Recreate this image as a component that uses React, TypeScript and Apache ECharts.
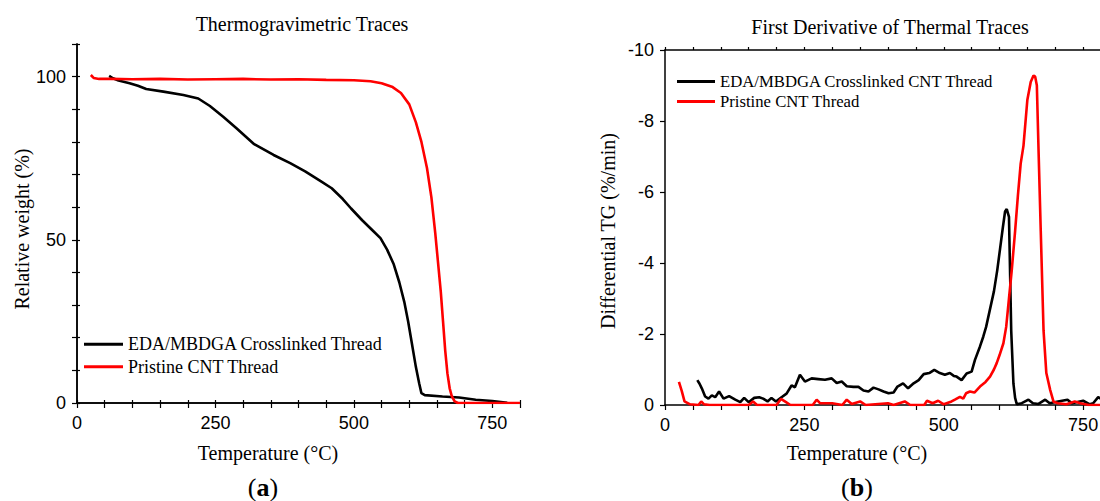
import React, { useEffect, useRef } from "react";
import * as echarts from "echarts";

// ---------- Data (a) Thermogravimetric traces ----------
const tgCrosslinkedTemp = [58, 65, 75, 95, 110, 125, 156, 192, 219, 240, 264, 288, 305, 320, 355, 385, 412, 440, 460, 480, 495, 515, 533, 548, 560, 572, 582, 591, 598, 605, 612, 618, 622, 628, 660, 690, 720, 750, 777];
const tgCrosslinkedWeight = [100.2, 99.5, 98.8, 98.0, 97.2, 96.2, 95.4, 94.4, 93.3, 91.0, 87.7, 84.2, 81.6, 79.3, 76.0, 73.5, 71.0, 68.0, 65.8, 62.5, 59.6, 56.0, 53.0, 50.5, 47.0, 42.5, 37.0, 31.0, 25.0, 18.0, 11.0, 6.0, 3.0, 2.4, 2.0, 1.7, 1.0, 0.6, 0.1];

const tgPristineTemp = [25, 30, 40, 60, 100, 150, 200, 250, 300, 350, 400, 450, 500, 530, 550, 570, 585, 600, 612, 622, 632, 640, 647, 652, 657, 661, 665, 669, 673, 677, 682, 688, 800];
const tgPristineWeight = [100.5, 99.6, 99.3, 99.3, 99.2, 99.3, 99.1, 99.2, 99.3, 99.1, 99.2, 99.0, 98.9, 98.6, 98.0, 96.8, 95.0, 91.5, 86.0, 80.0, 72.0, 63.0, 52.0, 43.0, 34.0, 25.0, 16.0, 9.0, 4.5, 2.0, 0.5, 0.0, 0.0];

// ---------- Data (b) First derivative ----------
const dtgCrosslinkedTemp = [58, 62, 66, 72, 78, 84, 90, 97, 105, 115, 126, 135, 142, 150, 160, 169, 176, 184, 191, 199, 209, 218, 227, 233, 242, 251, 263, 275, 287, 299, 308, 317, 326, 338, 347, 356, 365, 374, 383, 392, 401, 410, 417, 427, 436, 446, 455, 464, 474, 483, 493, 502, 511, 518, 523, 532, 541, 550, 556, 565, 571, 576, 583, 590, 596, 601, 606, 610, 613, 617, 621, 625, 628, 631, 640, 652, 660, 670, 682, 690, 705, 722, 730, 750, 762, 768, 777, 790, 800];
const dtgCrosslinkedRate = [-0.7, -0.6, -0.47, -0.24, -0.18, -0.27, -0.22, -0.38, -0.18, -0.25, -0.15, -0.08, -0.2, -0.08, -0.2, -0.22, -0.18, -0.1, -0.2, -0.1, -0.22, -0.32, -0.55, -0.5, -0.85, -0.66, -0.75, -0.73, -0.71, -0.75, -0.62, -0.66, -0.53, -0.51, -0.51, -0.41, -0.38, -0.49, -0.44, -0.38, -0.33, -0.35, -0.52, -0.61, -0.47, -0.61, -0.7, -0.87, -0.9, -0.99, -0.9, -0.85, -0.9, -0.82, -0.8, -0.7, -0.89, -0.94, -1.27, -1.65, -1.93, -2.2, -2.7, -3.2, -3.8, -4.4, -5.0, -5.45, -5.52, -5.3, -2.1, -0.6, -0.2, -0.02, -0.05, -0.15, -0.05, -0.03, -0.15, -0.05, -0.1, -0.15, -0.05, -0.12, -0.02, -0.05, -0.22, -0.1, -0.15];

const dtgPristineTemp = [25, 30, 35, 45, 60, 65, 70, 80, 120, 150, 158, 165, 200, 208, 215, 225, 265, 272, 278, 300, 318, 326, 335, 350, 360, 400, 410, 430, 440, 465, 470, 480, 490, 500, 514, 520, 529, 535, 540, 547, 555, 565, 575, 583, 590, 595, 600, 607, 612, 617, 622, 628, 633, 638, 643, 650, 656, 661, 664, 667, 670, 674, 679, 684, 691, 697, 705, 720, 735, 745, 760, 800];
const dtgPristineRate = [-0.65, -0.4, -0.1, -0.02, 0, -0.1, -0.02, 0, 0, 0, -0.1, 0, 0, -0.17, -0.1, 0, 0, -0.15, -0.05, -0.05, 0, -0.15, -0.03, -0.1, 0, -0.05, 0, -0.1, 0, 0, -0.12, -0.05, -0.12, -0.02, -0.1, -0.15, -0.23, -0.18, -0.33, -0.38, -0.35, -0.52, -0.65, -0.8, -1.0, -1.18, -1.4, -1.74, -2.2, -3.0, -3.8, -4.9, -5.9, -6.8, -7.3, -8.6, -9.1, -9.28, -9.25, -9.0, -7.2, -4.9, -2.1, -0.9, -0.42, -0.09, -0.05, -0.02, -0.1, -0.05, 0, 0];

// ---------- Labels ----------
const titleA = "Thermogravimetric Traces";
const titleB = "First Derivative of Thermal Traces";
const xName = "Temperature (°C)";
const yNameA = "Relative weight (%)";
const yNameB = "Differential TG (%/min)";
const legendA = ["EDA/MBDGA Crosslinked Thread", "Pristine CNT Thread"];
const legendB = ["EDA/MBDGA Crosslinked CNT Thread", "Pristine CNT Thread"];

const zip = (xs: number[], ys: number[]) => xs.map((x, i) => [x, ys[i]]);

const SERIF = "'Liberation Serif', 'Times New Roman', serif";
const SANS = "'Liberation Sans', Arial, sans-serif";

export default function App() {
  const ref = useRef<HTMLDivElement>(null);

  useEffect(() => {
    if (!ref.current) return;
    const chart = echarts.init(ref.current, undefined, { renderer: "svg" });

    const axisLine = { show: true, lineStyle: { color: "#000", width: 1.5 } };
    const tickLabel = { color: "#000", fontFamily: SANS, fontSize: 18, margin: 11 };
    const xFmt = (v: number) => (v % 250 === 0 ? String(v) : "");

    const text = (t: string, x: number, y: number, size: number, rotation = 0, extra: any = {}) => ({
      type: "text",
      x,
      y,
      rotation,
      silent: true,
      style: {
        text: t,
        fontFamily: SERIF,
        fontSize: size,
        fill: "#000",
        align: "center",
        verticalAlign: "middle",
        textAlign: "center",
        textVerticalAlign: "middle",
        ...extra,
      },
    });

    const option: any = {
      animation: false,
      backgroundColor: "#fff",
      grid: [
        { left: 77, top: 44, width: 443, height: 359 },
        { left: 665, top: 50, width: 446, height: 355 },
      ],
      xAxis: [
        {
          gridIndex: 0, type: "value", position: "bottom", min: 0, max: 800, interval: 50,
          axisLine, axisTick: { show: true, inside: false, length: 5, lineStyle: { color: "#000", width: 1.2 } },
          axisLabel: { ...tickLabel, formatter: xFmt }, splitLine: { show: false },
        },
        {
          gridIndex: 0, type: "value", position: "top", min: 0, max: 800, interval: 50,
          axisLine, axisTick: { show: true, inside: false, length: 3, lineStyle: { color: "#000", width: 1.2 } },
          axisLabel: { show: false }, splitLine: { show: false },
        },
        {
          gridIndex: 1, type: "value", position: "bottom", min: 0, max: 800, interval: 50,
          axisLine, axisTick: { show: true, inside: false, length: 5, lineStyle: { color: "#000", width: 1.2 } },
          axisLabel: { ...tickLabel, formatter: xFmt }, splitLine: { show: false },
        },
        {
          gridIndex: 1, type: "value", position: "top", min: 0, max: 800, interval: 50,
          axisLine, axisTick: { show: true, inside: false, length: 3, lineStyle: { color: "#000", width: 1.2 } },
          axisLabel: { show: false }, splitLine: { show: false },
        },
      ],
      yAxis: [
        {
          gridIndex: 0, type: "value", position: "left", min: 0, max: 110, interval: 10,
          axisLine, axisTick: { show: true, inside: false, length: 5, lineStyle: { color: "#000", width: 1.2 } },
          axisLabel: { ...tickLabel, formatter: (v: number) => (v % 50 === 0 ? String(v) : "") },
          splitLine: { show: false },
        },
        {
          gridIndex: 0, type: "value", position: "right", min: 0, max: 110, interval: 10,
          axisLine, axisTick: { show: true, inside: false, length: 3, lineStyle: { color: "#000", width: 1.2 } },
          axisLabel: { show: false }, splitLine: { show: false },
        },
        {
          gridIndex: 1, type: "value", position: "left", min: -10, max: 0, interval: 2, inverse: true,
          axisLine, axisTick: { show: true, inside: false, length: 5, lineStyle: { color: "#000", width: 1.2 } },
          axisLabel: { ...tickLabel }, splitLine: { show: false },
        },
      ],
      legend: [
        {
          data: legendA, orient: "vertical", left: 84, top: 333, padding: 0, icon: "rect",
          itemWidth: 39, itemHeight: 3, itemGap: 0,
          textStyle: { fontFamily: SERIF, fontSize: 18, color: "#000", lineHeight: 22.5 },
          selectedMode: false,
        },
        {
          data: legendB, orient: "vertical", left: 677, top: 71.5, padding: 0, icon: "rect",
          itemWidth: 38, itemHeight: 3, itemGap: 0,
          textStyle: { fontFamily: SERIF, fontSize: 16.7, color: "#000", lineHeight: 20 },
          selectedMode: false,
        },
      ],
      series: [
        {
          name: legendA[0], type: "line", xAxisIndex: 0, yAxisIndex: 0, symbol: "none",
          lineStyle: { color: "#000", width: 2.6 }, itemStyle: { color: "#000" },
          data: zip(tgCrosslinkedTemp, tgCrosslinkedWeight),
        },
        {
          name: legendA[1], type: "line", xAxisIndex: 0, yAxisIndex: 0, symbol: "none",
          lineStyle: { color: "#ff0000", width: 2.6 }, itemStyle: { color: "#ff0000" },
          data: zip(tgPristineTemp, tgPristineWeight),
        },
        {
          name: legendB[0], type: "line", xAxisIndex: 2, yAxisIndex: 2, symbol: "none",
          lineStyle: { color: "#000", width: 2.6 }, itemStyle: { color: "#000" },
          data: zip(dtgCrosslinkedTemp, dtgCrosslinkedRate),
        },
        {
          name: legendB[1], type: "line", xAxisIndex: 2, yAxisIndex: 2, symbol: "none",
          lineStyle: { color: "#ff0000", width: 2.6 }, itemStyle: { color: "#ff0000" },
          data: zip(dtgPristineTemp, dtgPristineRate),
        },
      ],
      graphic: [
        text(titleA, 302, 24, 20),
        text(titleB, 890, 27, 20),
        text(xName, 268, 453, 20),
        text(xName, 857, 453, 20),
        text(yNameA, 22, 229, 20, Math.PI / 2),
        text(yNameB, 608, 231, 20, Math.PI / 2),
        text("({b|a})", 263, 487, 26, 0, { rich: { b: { fontWeight: "bold", fontFamily: SERIF, fontSize: 26, fill: "#000" } } }),
        text("({b|b})", 857, 487, 26, 0, { rich: { b: { fontWeight: "bold", fontFamily: SERIF, fontSize: 26, fill: "#000" } } }),
      ],
    };

    chart.setOption(option);
    return () => chart.dispose();
  }, []);

  return (
    <div style={{ position: "absolute", left: 0, top: 0, width: 1100, height: 501, background: "#fff", overflow: "hidden" }}>
      <div ref={ref} style={{ width: 1125, height: 501 }} />
    </div>
  );
}
